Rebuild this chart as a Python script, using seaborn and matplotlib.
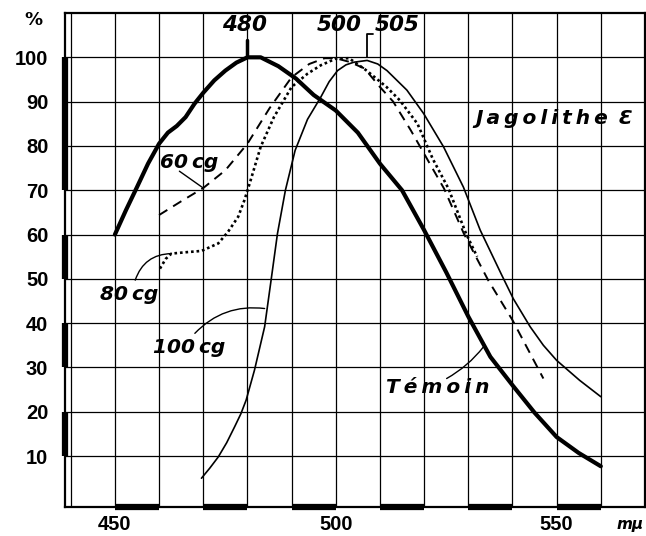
import numpy as np
import pandas as pd
import matplotlib
matplotlib.use("Agg")
import matplotlib.pyplot as plt
import seaborn as sns

# ===============================
# Data (wavelength in mu, transmission in %)
# ===============================
temoin_x = [450, 452.5, 455, 457.5, 460, 462, 464, 466, 468, 470, 472.5, 475, 477.5,
            480, 483, 487, 491, 495, 500, 505, 510, 515, 520, 525, 530, 535, 540,
            545, 550, 555, 560]
temoin_y = [60, 65.5, 70.7, 76, 80.5, 83, 84.5, 86.5, 89.5, 92, 94.8, 97, 98.8,
            100, 100, 98, 95.2, 91.5, 88, 83, 76, 70, 61, 51.5, 41.5, 32.4, 26,
            19.8, 14.3, 10.7, 7.7]

cg60_x = [460, 465, 470, 475, 480, 485, 490, 494, 497.5, 500, 503, 506.5, 510, 513,
          517, 521, 524.5, 529, 534.5, 540, 547]
cg60_y = [64.4, 67.5, 70.5, 74.5, 80.5, 88.5, 95.5, 98.5, 99.8, 99.8, 99, 97.5, 93.3,
          90, 83.5, 76.5, 70.4, 60.2, 49.7, 40.7, 27.5]

cg80_x = [460.2, 461.5, 462.8, 466, 469.6, 473.4, 475.6, 477.9, 479.3, 480.5, 483, 486,
          490, 493.6, 496.6, 500, 503, 507, 511.5, 514.5, 518.5, 522, 525.5, 529.5, 532]
cg80_y = [52.3, 54.5, 55.7, 56, 56.3, 58, 60.6, 64, 67.7, 71.5, 79.8, 86.5,
          93.3, 96.3, 98.2, 99.7, 99.8, 97, 93.3, 90.3, 85, 77, 70.4, 60.2, 55]

cg100_x = [469.6, 471.5, 473.4, 475.3, 477.1, 478.5, 479.7, 481.6, 483.9, 485.4, 486.8,
           488.6, 490.8, 493.6, 496.6, 498.5, 500.4, 502.3, 504.1, 507.1, 509.5, 511.6,
           516.1, 519.9, 524.4, 528.9, 532.7, 537.5, 540.2, 544, 547, 550, 555.2, 560]
cg100_y = [5, 7.3, 9.8, 13, 16.6, 19.5, 22.6, 29.4, 39.2, 50, 60.2, 70, 79, 86, 91,
           94.5, 97, 98.3, 98.9, 99.3, 98.5, 97, 92.6, 87.3, 79.8, 70.7, 61, 51,
           45.5, 39.2, 35, 31.6, 27.1, 23.4]

x_ticks = list(range(440, 561, 10))
x_labels = ["" if t not in (450, 500, 550) else str(t) for t in x_ticks]
y_ticks = list(range(10, 101, 10))
y_labels = [str(t) for t in y_ticks]

peak_labels = ["480", "500", "505"]

# ===============================
# Style
# ===============================
sns.set_style("white")
plt.rcParams["font.family"] = ["DejaVu Sans"]
plt.rcParams["text.color"] = "black"
plt.rcParams["xtick.color"] = "black"
plt.rcParams["ytick.color"] = "black"

fig = plt.figure(figsize=(6.46, 5.36), dpi=100)
ax = fig.add_axes([0.1006, 0.0541, 0.8978, 0.9216])

curves = [
    (temoin_x, temoin_y, dict(lw=3.0, ls="-")),
    (cg60_x, cg60_y, dict(lw=1.4, ls=(0, (5, 3.5)))),
    (cg80_x, cg80_y, dict(lw=1.9, ls=(0, (1, 1.1)))),
    (cg100_x, cg100_y, dict(lw=1.2, ls="-")),
]
for xs, ys, st in curves:
    df = pd.DataFrame({"nm": xs, "pct": ys})
    sns.lineplot(data=df, x="nm", y="pct", ax=ax, color="black", sort=False,
                 solid_joinstyle="round", solid_capstyle="round",
                 dash_capstyle="butt", **st)

ax.set_xlim(438.7, 570)
ax.set_ylim(-1.5, 110)
ax.set_xticks(x_ticks)
ax.set_xticklabels(x_labels)
ax.set_yticks(y_ticks)
ax.set_yticklabels(y_labels)
ax.set_xlabel("")
ax.set_ylabel("")
ax.grid(True, color="black", lw=0.9)
ax.set_axisbelow(True)
for s in ax.spines.values():
    s.set_color("black")
    s.set_linewidth(1.6)

ax.tick_params(length=0, pad=6, colors="black")
ax.tick_params(axis="y", pad=12)
for lab in ax.get_xticklabels() + ax.get_yticklabels():
    lab.set_family("Liberation Sans")
    lab.set_fontweight("bold")
    lab.set_fontsize(14.5)
    lab.set_color("black")

# thick bars on the frame (scale marks of the original print)
for a in range(450, 560, 20):
    ax.plot([a, a + 10], [-1.5, -1.5], color="black", lw=4.5, clip_on=False,
            solid_capstyle="butt")
for a, b in [(70, 100), (50, 60), (30, 40), (10, 20)]:
    ax.plot([438.7, 438.7], [a, b], color="black", lw=4.5, clip_on=False,
            solid_capstyle="butt")

# peak markers
bi = dict(fontsize=15.5, fontweight="bold", fontstyle="italic",
          ha="center", va="center", color="black")
ax.plot([480, 480], [100, 104], color="black", lw=2.5)
ax.plot([507.1, 507.1, 508.4], [100, 105.2, 105.2], color="black", lw=1.3)
ax.text(479.3, 107.2, peak_labels[0], **bi)
ax.text(500.7, 107.2, peak_labels[1], **bi)
ax.text(514.0, 107.2, peak_labels[2], **bi)

# curve labels
lab = dict(fontsize=14.5, fontweight="bold", fontstyle="italic",
           ha="center", va="center", color="black")
ax.text(466.7, 76.3, "60\u2009cg", **lab)
ax.text(453.2, 46.5, "80\u2009cg", **lab)
ax.text(466.7, 34.6, "100\u2009cg", **lab)
ax.text(523.2, 25.4, "T\u2009é\u2009m\u2009o\u2009i\u2009n", **lab)
ax.text(549.5, 86.3, "J\u2009a\u2009g\u2009o\u2009l\u2009i\u2009t\u2009h\u2009e\u2009 \u0190", **lab)

arr = dict(arrowstyle="-", color="black", lw=1.0, shrinkA=0, shrinkB=0)
ax.annotate("", xy=(470, 70.5), xytext=(464.6, 74.3),
            arrowprops=dict(connectionstyle="arc3,rad=0.0", **arr))
ax.annotate("", xy=(462.8, 55.7), xytext=(454.6, 49.7),
            arrowprops=dict(connectionstyle="arc3,rad=-0.35", **arr))
ax.annotate("", xy=(483.9, 43.3), xytext=(468.1, 37.7),
            arrowprops=dict(connectionstyle="arc3,rad=-0.25", **arr))
ax.annotate("", xy=(533.4, 34.6), xytext=(525.1, 27.5),
            arrowprops=dict(connectionstyle="arc3,rad=0.1", **arr))

fig.text(33 / 646, 1 - 20 / 536, "%", fontsize=13, fontweight="bold",
         ha="center", va="center", color="black")
fig.text(630 / 646, 1 - 524 / 536, "mμ", fontsize=11, fontweight="bold",
         fontstyle="italic", ha="center", va="center", color="black")

fig.savefig("out.png", dpi=100, facecolor="white")
